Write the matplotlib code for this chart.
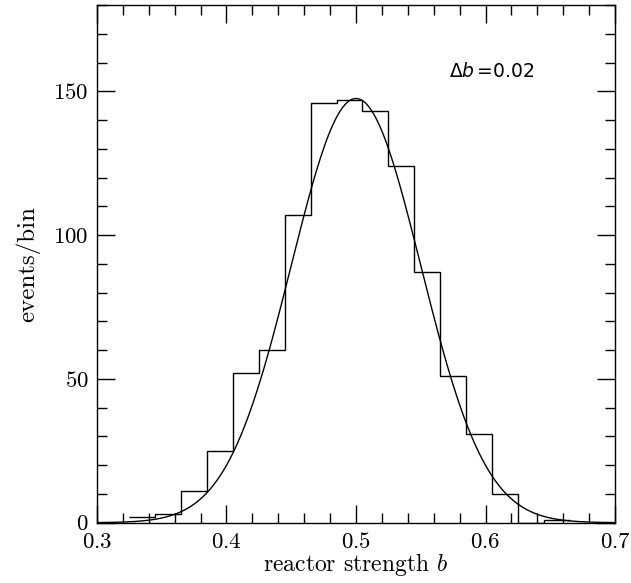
import numpy as np
import matplotlib
matplotlib.use('Agg')
import matplotlib.pyplot as plt
from matplotlib.ticker import MultipleLocator

plt.rcParams['font.family'] = 'cmr10'
plt.rcParams['mathtext.fontset'] = 'cm'
plt.rcParams['axes.formatter.use_mathtext'] = True

# histogram: bin edges and counts (bin width 0.02)
bin_edges = [0.325, 0.345, 0.365, 0.385, 0.405, 0.425, 0.445, 0.465, 0.485,
             0.505, 0.525, 0.545, 0.565, 0.585, 0.605, 0.625, 0.645, 0.665]
counts = [2, 3, 11, 25, 52, 60, 107, 146, 147, 143, 124, 87, 51, 31, 10, 0, 1]

# gaussian curve parameters
curve_mean = 0.5
curve_sigma = 0.05
curve_peak = 147.5

fig = plt.figure(figsize=(6.31, 5.83), dpi=100)
ax = fig.add_axes([0.1537, 0.1034, 0.8210, 0.8880])

ax.stairs(counts, bin_edges, baseline=None, color='black', linewidth=1.0)

b = np.linspace(0.3, 0.7, 400)
ax.plot(b, curve_peak * np.exp(-0.5 * ((b - curve_mean) / curve_sigma) ** 2),
        color='black', linewidth=1.0)

ax.set_xlim(0.3, 0.7)
ax.set_ylim(0, 180)
ax.xaxis.set_major_locator(MultipleLocator(0.1))
ax.xaxis.set_minor_locator(MultipleLocator(0.02))
ax.yaxis.set_major_locator(MultipleLocator(50))
ax.yaxis.set_minor_locator(MultipleLocator(10))
ax.tick_params(which='both', direction='in', top=True, right=True,
               labelsize=16.5, width=1.0)
ax.tick_params(which='major', length=13)
ax.tick_params(axis='x', which='major', pad=7)
ax.tick_params(axis='y', which='major', pad=6)
ax.tick_params(which='minor', length=7)
for s in ax.spines.values():
    s.set_linewidth(1.0)

ax.set_xlabel(r'reactor strength $b$', fontsize=17, labelpad=-1)
ax.set_ylabel('events/bin', fontsize=18, labelpad=9)

ax.text(0.5718, 155.1, r'$\Delta b\,$=0.02', family='DejaVu Sans',
        math_fontfamily='dejavusans', fontsize=13.5, ha='left', va='baseline')

fig.savefig('out.png', dpi=100)
